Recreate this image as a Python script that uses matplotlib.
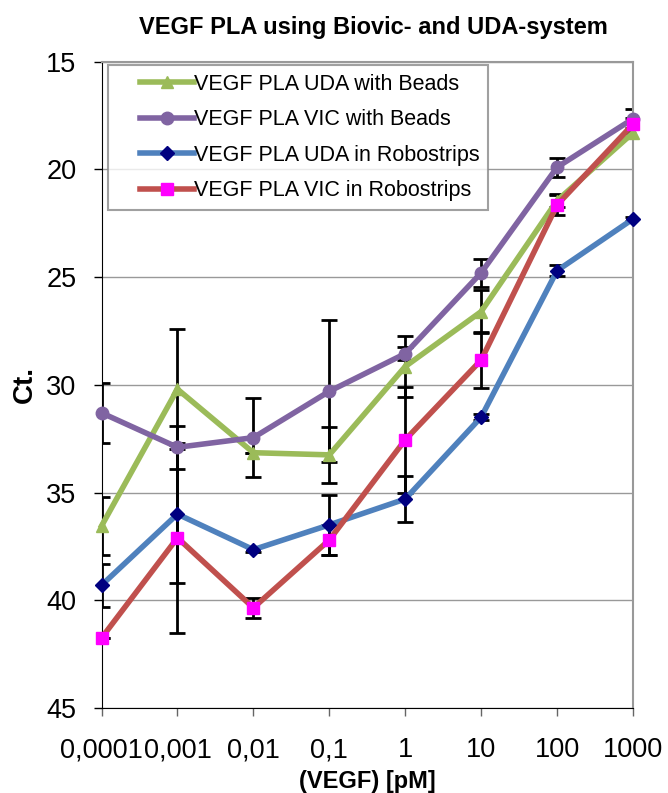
import numpy as np
import matplotlib
matplotlib.use('Agg')
import matplotlib.pyplot as plt
from matplotlib.legend_handler import HandlerLine2D

plt.rcParams['font.family'] = ['Liberation Sans', 'DejaVu Sans']

conc_labels = ['0,0001', '0,001', '0,01', '0,1', '1', '10', '100', '1000']

uda_beads = [36.55, 30.2, 33.15, 33.25, 29.15, 26.6, 21.45, 18.3]
uda_beads_err = [1.35, 2.8, 0.0, 1.3, 1.4, 1.0, 0.3, 0.0]

vic_beads = [31.3, 32.9, 32.45, 30.3, 28.55, 24.8, 19.9, 17.65]
vic_beads_err = [1.4, 1.0, 1.85, 3.3, 0.3, 0.65, 0.45, 0.45]

uda_robo = [39.3, 36.0, 37.65, 36.5, 35.3, 31.5, 24.7, 22.3]
uda_robo_err = [1.0, 3.2, 0.1, 1.4, 1.05, 0.15, 0.25, 0.1]

vic_robo = [41.75, 37.1, 40.35, 37.2, 32.55, 28.85, 21.65, 17.9]
vic_robo_err = [0.0, 4.4, 0.45, 0.7, 2.45, 1.3, 0.45, 0.3]

x = np.arange(len(conc_labels))


# legend line sample is indented a bit from the frame, like in Excel
class IndentedLine(HandlerLine2D):
    def create_artists(self, legend, orig_handle, xdescent, ydescent,
                       width, height, fontsize, trans):
        shift = 0.3 * width
        return super().create_artists(legend, orig_handle, xdescent - shift,
                                      ydescent, width - shift, height,
                                      fontsize, trans)


fig = plt.figure(figsize=(6.68, 7.93), dpi=100)
ax = fig.add_axes([0.152, 0.1072, 0.7956, 0.815])

series = [
    ('VEGF PLA UDA with Beads', uda_beads, uda_beads_err, '#9BBB59', '^', '#9BBB59', 9),
    ('VEGF PLA VIC with Beads', vic_beads, vic_beads_err, '#8064A2', 'o', '#8064A2', 9),
    ('VEGF PLA UDA in Robostrips', uda_robo, uda_robo_err, '#4F81BD', 'D', '#000080', 7),
    ('VEGF PLA VIC in Robostrips', vic_robo, vic_robo_err, '#C0504D', 's', '#FF00FF', 9),
]

for name, vals, err, col, mk, mcol, ms in series:
    ax.errorbar(x, vals, yerr=err, fmt='none', ecolor='black', elinewidth=2,
                capsize=6, capthick=2, zorder=2)
lines = []
for name, vals, err, col, mk, mcol, ms in series:
    ln, = ax.plot(x, vals, color=col, lw=4, marker=mk, markersize=ms,
                  markerfacecolor=mcol, markeredgecolor=mcol, label=name,
                  zorder=3, clip_on=False)
    lines.append(ln)

ax.set_xlim(0, 7)
ax.set_ylim(45, 15)
ax.set_yticks([15, 20, 25, 30, 35, 40, 45])
ax.set_xticks(x)
ax.set_xticklabels(conc_labels, fontsize=19.5)
ax.tick_params(axis='y', labelsize=19.5, direction='out', length=6, width=1, pad=12)
ax.tick_params(axis='x', direction='out', length=6, width=1, color='#666666', pad=15)
ax.grid(axis='y', color='#999999', lw=1)
ax.set_axisbelow(True)

ax.spines['top'].set_color('#999999')
ax.spines['right'].set_color('#999999')
ax.spines['top'].set_linewidth(1.5)
ax.spines['right'].set_linewidth(1.5)
ax.spines['left'].set_color('black')
ax.spines['bottom'].set_color('black')

ax.set_title('VEGF PLA using Biovic- and UDA-system', fontsize=17,
             fontweight='bold', pad=20, x=0.512)
ax.set_ylabel('Ct.', fontsize=20, fontweight='bold', labelpad=6)
ax.set_xlabel('(VEGF) [pM]', fontsize=17, fontweight='bold', labelpad=5)

leg = ax.legend(handles=lines, loc='upper left', bbox_to_anchor=(0.006, 1.0),
                fontsize=15.5, frameon=True, fancybox=False, handlelength=3.6,
                borderpad=0.4, labelspacing=0.68, handletextpad=0.0,
                borderaxespad=0.15,
                handler_map={ln: IndentedLine() for ln in lines})
leg.get_frame().set_edgecolor('#888888')
leg.get_frame().set_linewidth(1.5)

fig.savefig('out.png', dpi=100)
